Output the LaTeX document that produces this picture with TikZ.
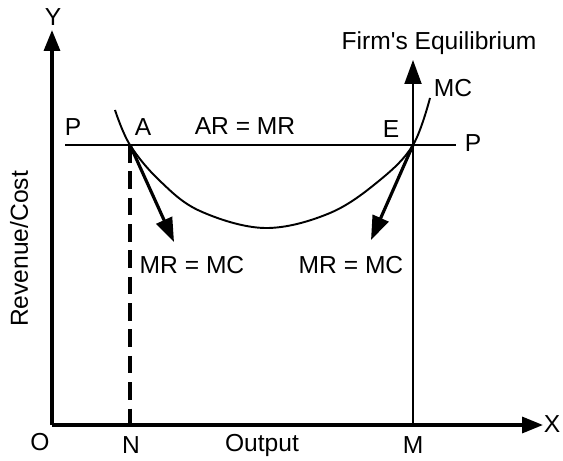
\documentclass[tikz,border=0pt]{standalone}
\usepackage{fontspec}
\setmainfont{Liberation Sans}
\usetikzlibrary{arrows.meta}

\begin{document}
\begin{tikzpicture}[x=0.02cm,y=0.02cm,font=\fontsize{14}{16}\selectfont,
  ax/.style={line width=1.9pt,-{Triangle[length=4.2mm,width=3.2mm]}},
  ln/.style={line width=1.1pt},
  mv/.style={line width=1.8pt,-{Triangle[length=4.8mm,width=3.4mm]}},
  lb/.style={inner sep=1pt}]
  \useasboundingbox (0,0) rectangle (563,460);
  % points
  \coordinate (O) at (52,35);
  \coordinate (ytop) at (52,430);
  \coordinate (xend) at (543,35);
  \coordinate (A) at (130,315);
  \coordinate (E) at (413,315);
  \coordinate (N) at (130,35);
  \coordinate (M) at (413,35);
  \coordinate (Mtop) at (413,400);
  \coordinate (pl) at (65,315);
  \coordinate (pr) at (456,315);
  \coordinate (a2) at (174,218);
  \coordinate (e2) at (371,220);
  % axes
  \draw[ax] (O) -- (ytop);
  \draw[ax] (O) -- (xend);
  % price line
  \draw[ln] (pl) -- (pr);
  \draw[line width=2.3pt,dash pattern=on 10pt off 5pt] (A) -- (N);
  \draw[ln,-{Triangle[length=4.8mm,width=3.4mm]}] (M) -- (Mtop);
  % MC curve
  \draw[ln] plot[smooth,tension=0.6] coordinates {(115,350) (A) (160,279) (200,249) (265,232) (330,247) (380,280) (E) (430,362)};
  \draw[mv] (A) -- (a2);
  \draw[mv] (E) -- (e2);
  % labels
  \node[lb] (ly) at (53,443) {Y};
  \node[lb] (lx) at (552,36) {X};
  \node[lb] (lo) at (40,18) {O};
  \node[lb] (ln) at (131,15) {N};
  \node[lb] (lout) at (262,15) {Output};
  \node[lb] (lm) at (413,15) {M};
  \node[lb,rotate=90] (lrc) at (19,211) {Revenue/Cost};
  \node[lb] (lp1) at (73,333) {P};
  \node[lb] (la) at (143,333) {A};
  \node[lb] (lar) at (245,334) {AR = MR};
  \node[lb] (le) at (391,331) {E};
  \node[lb] (lp2) at (473,317) {P};
  \node[lb] (lmc) at (453,372) {MC};
  \node[lb] (lfe) at (439,417) {Firm\textquotesingle s Equilibrium};
  \node[lb] (lq1) at (192,195) {MR = MC};
  \node[lb] (lq2) at (351,195) {MR = MC};
\end{tikzpicture}
\end{document}
